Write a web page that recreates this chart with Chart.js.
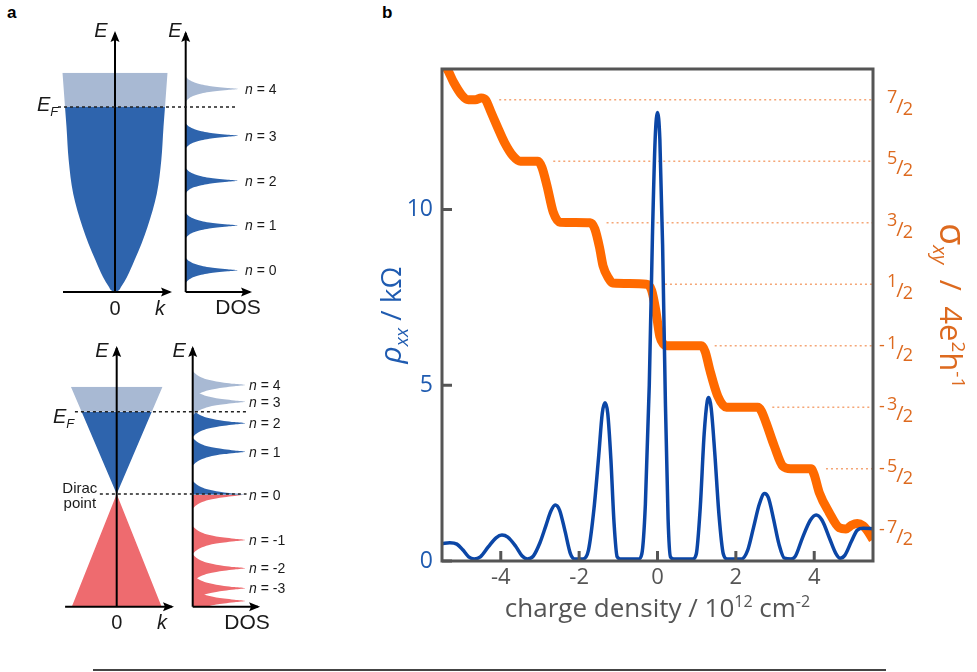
<!DOCTYPE html>
<html><head><meta charset="utf-8">
<script src="https://cdn.jsdelivr.net/npm/chart.js@4.4.1/dist/chart.umd.min.js"></script>
<style>
html,body{margin:0;padding:0;background:#fff;}
body{width:977px;height:672px;position:relative;overflow:hidden;font-family:'Liberation Sans',Arial,sans-serif;}
canvas{position:absolute;}
.plbl{position:absolute;font-weight:bold;font-size:17px;color:#000;font-family:'Liberation Sans',Arial,sans-serif;}
#rule{position:absolute;left:93px;top:669px;width:793px;height:2px;background:#444;}
</style></head><body>
<div class="plbl" style="left:7px;top:3px">a</div>
<div class="plbl" style="left:382px;top:3px">b</div>
<canvas id="ca" width="300" height="330" style="left:0;top:0"></canvas>
<canvas id="cb" width="300" height="330" style="left:0;top:330px"></canvas>
<canvas id="cc" width="597" height="672" style="left:380px;top:0"></canvas>
<div id="rule"></div>
<script>
// ================= DATA =================
// ---- panel b : rho_xx (kOhm) vs charge density (1e12 cm^-2)
const densityRho = [-5.5,-5.3,-5.12,-4.97,-4.82,-4.68,-4.52,-4.32,-4.12,-3.97,-3.82,-3.62,-3.46,-3.32,-3.17,-3.0,-2.85,-2.72,-2.61,-2.5,-2.36,-2.22,-2.12,-1.9,-1.76,-1.62,-1.5,-1.41,-1.34,-1.27,-1.19,-1.11,-1.03,-0.95,-0.48,-0.4,-0.31,-0.21,-0.13,-0.06,0.0,0.06,0.13,0.2,0.27,0.33,0.42,0.9,0.99,1.09,1.19,1.27,1.31,1.37,1.46,1.57,1.68,1.78,2.15,2.3,2.45,2.6,2.73,2.83,2.96,3.1,3.24,3.41,3.52,3.7,3.9,4.05,4.2,4.4,4.55,4.66,4.78,4.95,5.1,5.25,5.5];
const rhoXX = [0.50,0.52,0.48,0.32,0.12,0.06,0.12,0.40,0.66,0.74,0.68,0.42,0.15,0.06,0.14,0.52,1.0,1.42,1.59,1.45,0.85,0.2,0.06,0.06,0.32,1.5,3.0,4.2,4.5,4.2,2.9,1.1,0.12,0.06,0.06,0.2,1.6,5.0,9.2,12.0,12.76,12.0,9.0,4.6,1.2,0.12,0.06,0.06,0.2,1.5,3.6,4.55,4.65,4.35,3.1,1.3,0.2,0.06,0.06,0.3,0.95,1.62,1.92,1.8,1.2,0.48,0.08,0.06,0.14,0.66,1.16,1.31,1.16,0.62,0.22,0.08,0.16,0.56,0.88,0.93,0.92];
// ---- panel b : sigma_xy (4e^2/h) vs charge density
const densitySigma = [-5.45,-5.37,-5.2,-5.0,-4.83,-4.65,-4.5,-4.39,-4.25,-4.1,-3.9,-3.68,-3.5,-3.05,-2.95,-2.82,-2.66,-2.49,-1.72,-1.6,-1.48,-1.39,-1.25,-1.14,-0.28,-0.15,-0.05,0.06,0.15,0.25,1.12,1.22,1.33,1.54,1.76,2.56,2.65,2.77,2.98,3.2,3.4,3.92,4.0,4.13,4.38,4.64,4.81,4.95,5.1,5.25,5.35,5.5];
const sigmaXY = [4.05,4.0,3.78,3.58,3.5,3.5,3.53,3.5,3.3,3.08,2.8,2.58,2.5,2.5,2.4,2.1,1.67,1.51,1.5,1.4,1.1,0.8,0.6,0.52,0.5,0.4,0.1,-0.35,-0.47,-0.5,-0.5,-0.6,-0.88,-1.32,-1.5,-1.5,-1.56,-1.75,-2.13,-2.46,-2.5,-2.5,-2.6,-2.89,-3.21,-3.46,-3.48,-3.42,-3.39,-3.43,-3.5,-3.65];
const rhoTicks = [0, 5, 10];
const densityTicks = [-4, -2, 0, 2, 4];
const sigmaLevels = [3.5, 2.5, 1.5, 0.5, -0.5, -1.5, -2.5, -3.5];
const sigmaTickText = [['','7','2'],['','5','2'],['','3','2'],['','1','2'],['-','1','2'],['-','3','2'],['-','5','2'],['-','7','2']];
const guideLevels = [3.5, 2.5, 1.5, 0.5, -0.5, -1.5, -2.5];
const guideStart = [-4.04, -2.66, -1.30, 0.19, 1.46, 2.93, 4.30];

// ---- panel a (top): parabolic band, E in units of E_F, k in units of k_F
const parabolaE = [0, 0.005, 0.027, 0.081, 0.171, 0.261, 0.351, 0.531, 0.712, 0.892, 1.0];
const parabolaK = [0, 0.055, 0.12, 0.24, 0.39, 0.53, 0.65, 0.836, 0.926, 0.97, 1.0];
const parabolaTopE = [1.0, 1.185];
const parabolaTopK = [1.0, 1.05];
const llEnergyTop = [0.118, 0.360, 0.602, 0.844, 1.097];
const llIndexTop = [0, 1, 2, 3, 4];
const peakOffsetTop = [0.0676, 0.0486, 0.0351, 0.0243, 0.0162, 0.0108, 0.0054, 0];
const peakHeightTop = [0, 0.07, 0.17, 0.30, 0.45, 0.60, 0.80, 1.0];

// ---- panel a (bottom): Dirac cone
const coneUpperE = [0, 1.0];
const coneUpperK = [0, 1.0];
const coneTopE = [1.0, 1.304];
const coneTopK = [1.0, 1.305];
const coneLowerE = [-1.369, 0];
const coneLowerK = [1.28, 0];
const llEnergyDirac = [1.324, 1.121, 0.859, 0.514, -0.01, -0.559, -0.903, -1.146, -1.30];
const llIndexDirac = [4, 3, 2, 1, 0, -1, -2, -3, null];
const peakOffsetDirac = [0.1701, 0.1276, 0.0911, 0.0632, 0.0437, 0.0292, 0.0146, 0];
const peakHeightDirac = [0, 0.07, 0.17, 0.30, 0.45, 0.60, 0.80, 1.0];

// ================= STYLE =================
const DARK = '#2e64ad', LIGHT = '#a8b9d3', RED = '#ee6b6f';
const BLUE = '#0b46a6', ORANGE = '#ff6a00', BLUE_TXT = '#1f5bb0', ORANGE_TXT = '#dd6a1f', GRAY = '#555';
const LS = "'Liberation Sans', Arial, sans-serif";
const OS = "'Open Sans', 'Noto Sans', sans-serif";

function lin(p0, v0, p1, v1, pmin, pmax) {
  const s = (v1 - v0) / (p1 - p0);
  const a = v0 + (pmin - p0) * s, b = v0 + (pmax - p0) * s;
  return {min: Math.min(a, b), max: Math.max(a, b)};
}
function drawRich(ctx, parts, x, y, align, rot) {
  ctx.save();
  ctx.translate(x, y);
  if (rot) ctx.rotate(rot);
  ctx.textBaseline = 'alphabetic';
  ctx.textAlign = 'left';
  let w = 0;
  parts.forEach(p => { ctx.font = p.f; p.w = ctx.measureText(p.t).width; w += p.w; });
  let cx = align === 'left' ? 0 : (align === 'right' ? -w : -w / 2);
  parts.forEach(p => { ctx.font = p.f; ctx.fillText(p.t, cx, p.dy || 0); cx += p.w; });
  ctx.restore();
}
const arrowPlugin = {
  id: 'arrowHeads',
  afterDatasetsDraw(chart) {
    const ctx = chart.ctx;
    chart.data.datasets.forEach((ds, i) => {
      if (!ds.arrowHead) return;
      const pts = chart.getDatasetMeta(i).data;
      const a = pts[pts.length - 2], b = pts[pts.length - 1];
      const ang = Math.atan2(b.y - a.y, b.x - a.x);
      ctx.save();
      ctx.translate(b.x, b.y); ctx.rotate(ang);
      ctx.beginPath(); ctx.moveTo(2, 0); ctx.lineTo(-9, -4.5); ctx.lineTo(-7, 0); ctx.lineTo(-9, 4.5); ctx.closePath();
      ctx.fillStyle = '#000'; ctx.fill();
      ctx.restore();
    });
  }
};
function textPlugin(items) {
  return {
    id: 'richText',
    afterDraw(chart) {
      const ctx = chart.ctx;
      items.forEach(it => {
        const px = chart.scales[it.ax].getPixelForValue(it.x);
        const py = chart.scales.y.getPixelForValue(it.y);
        ctx.fillStyle = it.color || '#1a1a1a';
        drawRich(ctx, it.parts, px, py + (it.bo || 0), it.align || 'center', 0);
      });
    }
  };
}
function lineDs(axis, pts, opt) {
  return Object.assign({type: 'line', xAxisID: axis, yAxisID: 'y', data: pts, borderColor: '#000', borderWidth: 2,
    pointRadius: 0, fill: false, tension: 0, clip: false}, opt || {});
}
function halfFill(axis, Es, Ks, sign, color, smooth) {
  const d = {type: 'line', xAxisID: axis, yAxisID: 'y', data: Es.map((e, i) => ({x: sign * Ks[i], y: e})),
    borderWidth: 0, borderColor: 'rgba(0,0,0,0)', backgroundColor: color, fill: 'origin', pointRadius: 0, tension: 0};
  if (smooth) d.cubicInterpolationMode = 'monotone';
  return d;
}
function peakFill(center, offs, hts, color, part, emin) {
  const pts = [];
  if (part !== 'upper') offs.forEach((o, i) => pts.push({x: hts[i], y: center - o}));
  if (part !== 'lower') for (let i = offs.length - 1; i >= 0; i--) { if (part !== 'upper' && offs[i] === 0) continue; pts.push({x: hts[i], y: center + offs[i]}); }
  const data = emin === undefined ? pts : pts.filter(p => p.y >= emin);
  return {type: 'line', xAxisID: 'xd', yAxisID: 'y', data, borderWidth: 0, borderColor: 'rgba(0,0,0,0)',
    backgroundColor: color, fill: 'origin', pointRadius: 0, cubicInterpolationMode: 'monotone'};
}
function nLabel(n, e, x) {
  return {ax: 'xd', x, y: e, align: 'left', bo: 5, parts: [{t: 'n', f: 'italic 14px ' + LS}, {t: ' = ' + n, f: '14px ' + LS}]};
}
function diagramOptions(yr, kr, dr) {
  return {
    indexAxis: 'y', responsive: false, animation: false, events: [],
    layout: {padding: 0},
    plugins: {legend: {display: false}, tooltip: {enabled: false}},
    scales: {
      y: {type: 'linear', display: false, min: yr.min, max: yr.max},
      xk: {type: 'linear', axis: 'x', display: false, min: kr.min, max: kr.max},
      xd: {type: 'linear', axis: 'x', display: false, min: dr.min, max: dr.max}
    }
  };
}

// ================= PANEL a (top) =================
(function () {
  const yr = lin(292, 0, 107, 1, 0, 330), kr = lin(115, 0, 165, 1, 0, 300), dr = lin(185.7, 0, 238, 1, 0, 300);
  const ds = [];
  ds.push(lineDs('xk', [{x: -1.14, y: 1}, {x: 2.44, y: 1}], {borderDash: [3, 3], borderWidth: 1.6, borderColor: '#222'}));
  ds.push(lineDs('xk', [{x: 0, y: 0}, {x: 0, y: 1.4}], {arrowHead: true}));
  ds.push(lineDs('xk', [{x: -1.04, y: 0}, {x: 1.1, y: 0}], {arrowHead: true}));
  ds.push(lineDs('xd', [{x: 0, y: 0}, {x: 0, y: 1.4}], {arrowHead: true}));
  ds.push(lineDs('xd', [{x: 0, y: 0}, {x: 1.23, y: 0}], {arrowHead: true}));
  llEnergyTop.forEach((e, i) => ds.push(peakFill(e, peakOffsetTop, peakHeightTop, llIndexTop[i] === 4 ? LIGHT : DARK)));
  ds.push(halfFill('xk', parabolaE, parabolaK, 1, DARK, true));
  ds.push(halfFill('xk', parabolaE, parabolaK, -1, DARK, true));
  ds.push(halfFill('xk', parabolaTopE, parabolaTopK, 1, LIGHT));
  ds.push(halfFill('xk', parabolaTopE, parabolaTopK, -1, LIGHT));
  const items = [
    {ax: 'xk', x: -0.28, y: 1.416, bo: 7, parts: [{t: 'E', f: 'italic 20px ' + LS}]},
    {ax: 'xd', x: -0.205, y: 1.416, bo: 7, parts: [{t: 'E', f: 'italic 20px ' + LS}]},
    {ax: 'xk', x: -1.56, y: 1.016, bo: 7, align: 'left', parts: [{t: 'E', f: 'italic 20px ' + LS}, {t: 'F', f: 'italic 13px ' + LS, dy: 5}]},
    {ax: 'xk', x: 0, y: -0.086, bo: 7, parts: [{t: '0', f: '20px ' + LS}]},
    {ax: 'xk', x: 0.9, y: -0.086, bo: 7, parts: [{t: 'k', f: 'italic 20px ' + LS}]},
    {ax: 'xd', x: 1.0, y: -0.081, bo: 7, parts: [{t: 'DOS', f: '21px ' + LS}]}
  ];
  llEnergyTop.forEach((e, i) => items.push(nLabel(llIndexTop[i], e, 1.134)));
  new Chart(document.getElementById('ca'), {type: 'line', data: {datasets: ds}, options: diagramOptions(yr, kr, dr), plugins: [arrowPlugin, textPlugin(items)]});
})();

// ================= PANEL a (bottom) =================
(function () {
  const yr = lin(164, 0, 81.7, 1, 0, 330), kr = lin(116.7, 0, 151.8, 1, 0, 300), dr = lin(192.7, 0, 245, 1, 0, 300);
  const ds = [];
  ds.push(lineDs('xk', [{x: -1.19, y: 1}, {x: 3.70, y: 1}], {borderDash: [3, 3], borderWidth: 1.6, borderColor: '#222'}));
  ds.push(lineDs('xk', [{x: -0.48, y: 0}, {x: 3.70, y: 0}], {borderDash: [3, 3], borderWidth: 1.6, borderColor: '#222'}));
  ds.push(lineDs('xk', [{x: 0, y: -1.369}, {x: 0, y: 1.774}], {arrowHead: true}));
  ds.push(lineDs('xk', [{x: -1.47, y: -1.369}, {x: 1.575, y: -1.369}], {arrowHead: true}));
  ds.push(lineDs('xd', [{x: 0, y: -1.369}, {x: 0, y: 1.774}], {arrowHead: true}));
  ds.push(lineDs('xd', [{x: 0, y: -1.369}, {x: 1.25, y: -1.369}], {arrowHead: true}));
  llEnergyDirac.forEach((e, i) => {
    const n = llIndexDirac[i];
    if (n === 0) {
      ds.push(peakFill(e, peakOffsetDirac, peakHeightDirac, DARK, 'upper'));
      ds.push(peakFill(e, peakOffsetDirac, peakHeightDirac, RED, 'lower'));
    } else {
      const c = n === null || n < 0 ? RED : (n >= 3 ? LIGHT : DARK);
      ds.push(peakFill(e, peakOffsetDirac, peakHeightDirac, c, 'both', -1.369));
    }
  });
  ds.push(halfFill('xk', coneUpperE, coneUpperK, 1, DARK));
  ds.push(halfFill('xk', coneUpperE, coneUpperK, -1, DARK));
  ds.push(halfFill('xk', coneTopE, coneTopK, 1, LIGHT));
  ds.push(halfFill('xk', coneTopE, coneTopK, -1, LIGHT));
  ds.push(halfFill('xk', coneLowerE, coneLowerK, 1, RED));
  ds.push(halfFill('xk', coneLowerE, coneLowerK, -1, RED));
  const items = [
    {ax: 'xk', x: -0.42, y: 1.75, bo: 7, parts: [{t: 'E', f: 'italic 20px ' + LS}]},
    {ax: 'xd', x: -0.26, y: 1.75, bo: 7, parts: [{t: 'E', f: 'italic 20px ' + LS}]},
    {ax: 'xk', x: -1.815, y: 0.948, bo: 7, align: 'left', parts: [{t: 'E', f: 'italic 20px ' + LS}, {t: 'F', f: 'italic 13px ' + LS, dy: 5}]},
    {ax: 'xk', x: -1.05, y: 0.073, bo: 5, parts: [{t: 'Dirac', f: '15px ' + LS}]},
    {ax: 'xk', x: -1.05, y: -0.109, bo: 5, parts: [{t: 'point', f: '15px ' + LS}]},
    {ax: 'xk', x: 0, y: -1.555, bo: 7, parts: [{t: '0', f: '20px ' + LS}]},
    {ax: 'xk', x: 1.29, y: -1.555, bo: 7, parts: [{t: 'k', f: 'italic 20px ' + LS}]},
    {ax: 'xd', x: 1.04, y: -1.555, bo: 7, parts: [{t: 'DOS', f: '21px ' + LS}]}
  ];
  llEnergyDirac.forEach((e, i) => { if (llIndexDirac[i] !== null) items.push(nLabel(llIndexDirac[i], e, 1.076)); });
  new Chart(document.getElementById('cb'), {type: 'line', data: {datasets: ds}, options: diagramOptions(yr, kr, dr), plugins: [arrowPlugin, textPlugin(items)]});
})();

// ================= PANEL b =================
(function () {
  const ds = [];
  ds.push({label: 'rho_xx', yAxisID: 'y', data: densityRho.map((x, i) => ({x, y: rhoXX[i]})), borderColor: BLUE, borderWidth: 3.5,
    pointRadius: 0, fill: false, cubicInterpolationMode: 'monotone', borderJoinStyle: 'round'});
  ds.push({label: 'sigma_xy', yAxisID: 'y1', data: densitySigma.map((x, i) => ({x, y: sigmaXY[i]})), borderColor: ORANGE, borderWidth: 9,
    pointRadius: 0, fill: false, cubicInterpolationMode: 'monotone', borderJoinStyle: 'round', clip: 0});
  guideLevels.forEach((lv, i) => ds.push({label: 'guide', yAxisID: 'y1', data: [{x: guideStart[i], y: lv}, {x: 5.5, y: lv}],
    borderColor: '#f5a676', borderWidth: 1.4, borderDash: [2, 3], pointRadius: 0, fill: false}));

  const framePlugin = {
    id: 'frameB',
    afterDraw(chart) {
      const ctx = chart.ctx, ca = chart.chartArea, sx = chart.scales.x, sy = chart.scales.y, s1 = chart.scales.y1;
      ctx.save();
      ctx.strokeStyle = GRAY; ctx.lineWidth = 3;
      ctx.strokeRect(ca.left, ca.top, ca.right - ca.left, ca.bottom - ca.top);
      ctx.beginPath();
      rhoTicks.forEach(v => { const p = sy.getPixelForValue(v); ctx.moveTo(ca.left, p); ctx.lineTo(ca.left + 10, p); });
      densityTicks.forEach(v => { const p = sx.getPixelForValue(v); ctx.moveTo(p, ca.bottom); ctx.lineTo(p, ca.bottom - 10); });
      ctx.stroke();
      // right-axis fraction labels
      ctx.fillStyle = ORANGE_TXT;
      sigmaLevels.forEach((lv, i) => {
        const [sg, nu, de] = sigmaTickText[i];
        const py = s1.getPixelForValue(lv), x0 = ca.right + 14;
        ctx.textBaseline = 'alphabetic'; ctx.textAlign = 'left';
        ctx.font = '18px ' + OS;
        if (sg) { ctx.fillText('-', x0 - 8, py + 5); }
        ctx.fillText(nu, x0, py + 3);
        const wn = ctx.measureText(nu).width;
        ctx.font = '20px ' + OS;
        ctx.fillText('/', x0 + wn - 1, py + 13);
        const ws = ctx.measureText('/').width;
        ctx.font = '18px ' + OS;
        ctx.fillText(de, x0 + wn + ws - 2, py + 15);
      });
      // axis titles
      ctx.fillStyle = BLUE_TXT;
      drawRich(ctx, [{t: 'ρ', f: 'italic 30px ' + OS}, {t: 'xx', f: 'italic 19px ' + OS, dy: 7}, {t: ' / kΩ', f: '28px ' + OS}],
        ca.left - 41, sy.getPixelForValue(7), 'center', -Math.PI / 2);
      ctx.fillStyle = ORANGE_TXT;
      drawRich(ctx, [{t: 'σ', f: '36px ' + OS}, {t: 'xy', f: 'italic 20px ' + OS, dy: 7}, {t: '  /  ', f: '30px ' + OS},
        {t: '4e', f: '31px ' + OS}, {t: '2', f: '19px ' + OS, dy: -12}, {t: 'h', f: '31px ' + OS}, {t: '-1', f: '19px ' + OS, dy: -12}],
        ca.right + 67, s1.getPixelForValue(0.15), 'center', Math.PI / 2);
      ctx.fillStyle = GRAY;
      drawRich(ctx, [{t: 'charge density / 10', f: '26px ' + OS}, {t: '12', f: '16px ' + OS, dy: -10}, {t: ' cm', f: '26px ' + OS},
        {t: '-2', f: '16px ' + OS, dy: -10}], sx.getPixelForValue(0), ca.bottom + 56, 'center', 0);
      ctx.restore();
    }
  };

  new Chart(document.getElementById('cc'), {
    type: 'line',
    data: {datasets: ds},
    options: {
      responsive: false, animation: false, events: [],
      layout: {padding: {top: 69, left: 0, right: 0, bottom: 0}},
      plugins: {legend: {display: false}, tooltip: {enabled: false}},
      scales: {
        x: {type: 'linear', min: -5.5, max: 5.5,
          afterBuildTicks: s => { s.ticks = densityTicks.map(v => ({value: v})); },
          afterFit: s => { s.height = 111; },
          grid: {display: false, drawTicks: false}, border: {display: false},
          ticks: {color: GRAY, font: {family: OS, size: 22}, padding: 4, maxRotation: 0, autoSkip: false, callback: v => String(v)}},
        y: {type: 'linear', position: 'left', min: 0, max: 14,
          afterBuildTicks: s => { s.ticks = rhoTicks.map(v => ({value: v})); },
          afterFit: s => { s.width = 62; },
          grid: {display: false, drawTicks: false}, border: {display: false},
          ticks: {color: BLUE_TXT, font: {family: OS, size: 23}, padding: 9, callback: v => String(v)}},
        y1: {type: 'linear', position: 'right', min: -4, max: 4,
          afterFit: s => { s.width = 104; },
          grid: {display: false, drawTicks: false}, border: {display: false},
          ticks: {display: false}}
      }
    },
    plugins: [framePlugin]
  });
})();
</script>
</body></html>
